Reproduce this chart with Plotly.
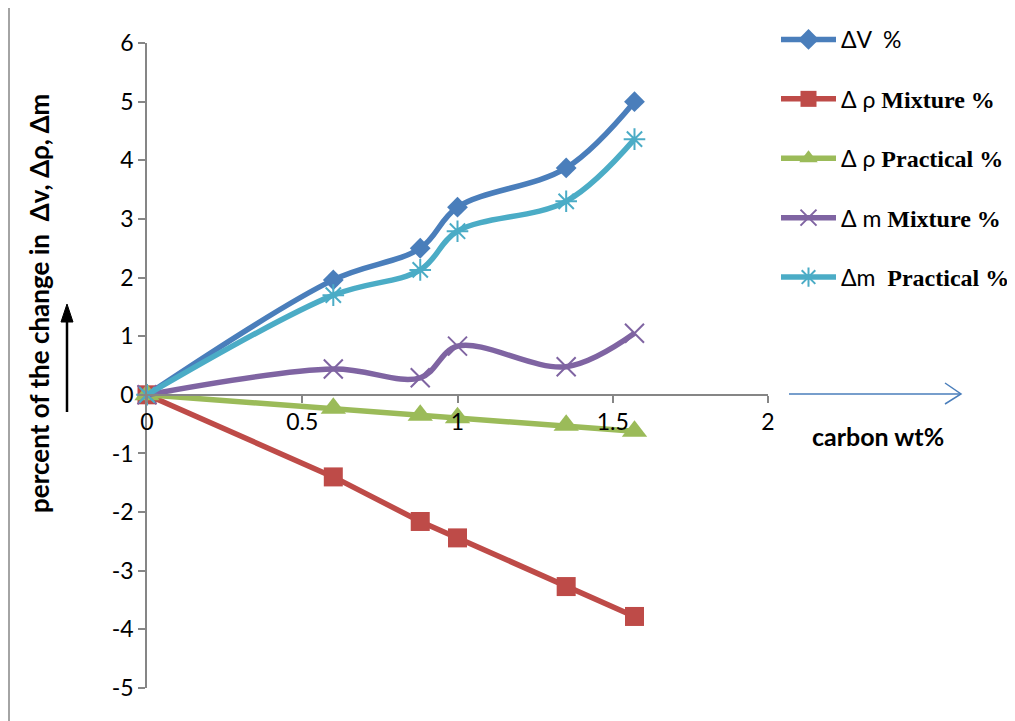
import plotly.graph_objects as go

carbon = [0, 0.6, 0.88, 1.0, 1.35, 1.57]
dV = [0, 1.96, 2.5, 3.2, 3.87, 5.0]
drho_mix = [0, -1.4, -2.16, -2.44, -3.27, -3.78]
drho_prac = [0, -0.23, -0.35, -0.39, -0.52, -0.62]
dm_mix = [0, 0.44, 0.29, 0.83, 0.48, 1.05]
dm_prac = [0, 1.7, 2.13, 2.79, 3.3, 4.36]

xticks = [0, 0.5, 1, 1.5, 2]
xticklabels = ["0", "0.5", "1", "1.5", "2"]
yticks = list(range(-5, 7))
yticklabels = [str(v) for v in yticks]

OFF = 8  # default page body margin
W, H = 1015 - OFF, 721 - OFF
L, R, T, B = 147 - OFF, 247, 43 - OFF, 33
PW, PH = W - L - R, H - T - B

def px(x):
    return (x - OFF - L) / PW

def py(y):
    return (H - B - (y - OFF)) / PH

SERIF = "Liberation Serif"
def lab(prefix, word):
    return (prefix + '<span style="font-family:' + SERIF +
            '; font-weight:bold; font-size:24px">' + word + '</span>')

fig = go.Figure()
series = [
    ("ΔV  %", dV, "#4A7EBB", "diamond", 16, "spline", 0),
    (lab("Δ ρ ", "Mixture %"), drho_mix, "#BE4B48", "square", 19, "linear", 0),
    (lab("Δ ρ ", "Practical %"), drho_prac, "#9BBB59", "triangle-up", 22, "linear", 0),
    (lab("Δ m ", "Mixture %"), dm_mix, "#7F64A2", "x-thin-open", 19, "spline", 2),
    (lab("Δm  ", "Practical %"), dm_prac, "#4BACC6", "asterisk-open", 18, "spline", 2),
]
for i, (name, ys, col, sym, sz, shape, mlw) in enumerate(series):
    mk = dict(symbol=sym, size=sz, color=col)
    if mlw:
        mk["line"] = dict(color=col, width=mlw)
    fig.add_trace(go.Scatter(
        x=carbon, y=ys, name=name, mode="lines+markers",
        line=dict(color=col, width=5.5, shape=shape, smoothing=1),
        marker=mk, cliponaxis=False, legendgroup=str(i),
    ))

fig.update_layout(
    width=W, height=H,
    margin=dict(l=L, r=R, t=T, b=B, autoexpand=False),
    paper_bgcolor="white", plot_bgcolor="white",
    font=dict(family="Lato, sans-serif", size=23, color="#000000"),
    showlegend=True,
    legend=dict(
        x=px(776), y=py(18), xanchor="left", yanchor="top",
        traceorder="grouped", tracegroupgap=26.5, itemwidth=55,
        font=dict(family="Lato, sans-serif", size=23, color="#000000"),
        bgcolor="rgba(0,0,0,0)",
    ),
    xaxis=dict(
        range=[0, 2], tickvals=xticks, ticktext=xticklabels,
        showgrid=False, zeroline=False, showline=True, linecolor="#868686", linewidth=1.5,
        ticks="outside", ticklen=7, tickcolor="#868686", tickwidth=1.5,
        anchor="free", position=5 / 11, automargin=False,
        tickfont=dict(size=23),
    ),
    yaxis=dict(
        range=[-5, 6], tickvals=yticks, ticktext=yticklabels,
        showgrid=False, zeroline=False, showline=True, linecolor="#868686", linewidth=1.5,
        ticks="outside", ticklen=7, tickcolor="#868686", tickwidth=1.5, automargin=False,
        tickfont=dict(size=23),
    ),
)

# y-axis title
fig.add_annotation(
    x=px(39), y=py(304), xref="paper", yref="paper", xanchor="center", yanchor="middle",
    text="<b>percent of the change in  Δv, Δρ, Δm</b>", textangle=-90,
    showarrow=False, font=dict(family="Lato, sans-serif", size=26, color="#000000"),
)
# x-axis title
fig.add_annotation(
    x=px(878), y=py(436), xref="paper", yref="paper", xanchor="center", yanchor="middle",
    text="<b>carbon wt%</b>", showarrow=False,
    font=dict(family="Lato, sans-serif", size=25, color="#000000"),
)

# vertical black arrow
fig.add_shape(type="line", xref="paper", yref="paper",
              x0=px(67), x1=px(67), y0=py(412), y1=py(318),
              line=dict(color="black", width=2.5))
fig.add_shape(type="path", xref="paper", yref="paper",
              path="M {:.5f} {:.5f} L {:.5f} {:.5f} L {:.5f} {:.5f} Z".format(
                  px(61), py(322), px(67), py(304), px(73), py(322)),
              fillcolor="black", line=dict(color="black", width=1))

# horizontal blue arrow
fig.add_shape(type="line", xref="paper", yref="paper",
              x0=px(789), x1=px(960), y0=py(394), y1=py(394),
              line=dict(color="#4A7EBB", width=1.5))
fig.add_shape(type="path", xref="paper", yref="paper",
              path="M {:.5f} {:.5f} L {:.5f} {:.5f} L {:.5f} {:.5f}".format(
                  px(945), py(383), px(961), py(394), px(945), py(404)),
              line=dict(color="#4A7EBB", width=1.5))

# left border of chart area
fig.add_shape(type="line", xref="paper", yref="paper",
              x0=px(9), x1=px(9), y0=py(8), y1=py(721),
              line=dict(color="#868686", width=1.5))

fig.write_html("out.html")
